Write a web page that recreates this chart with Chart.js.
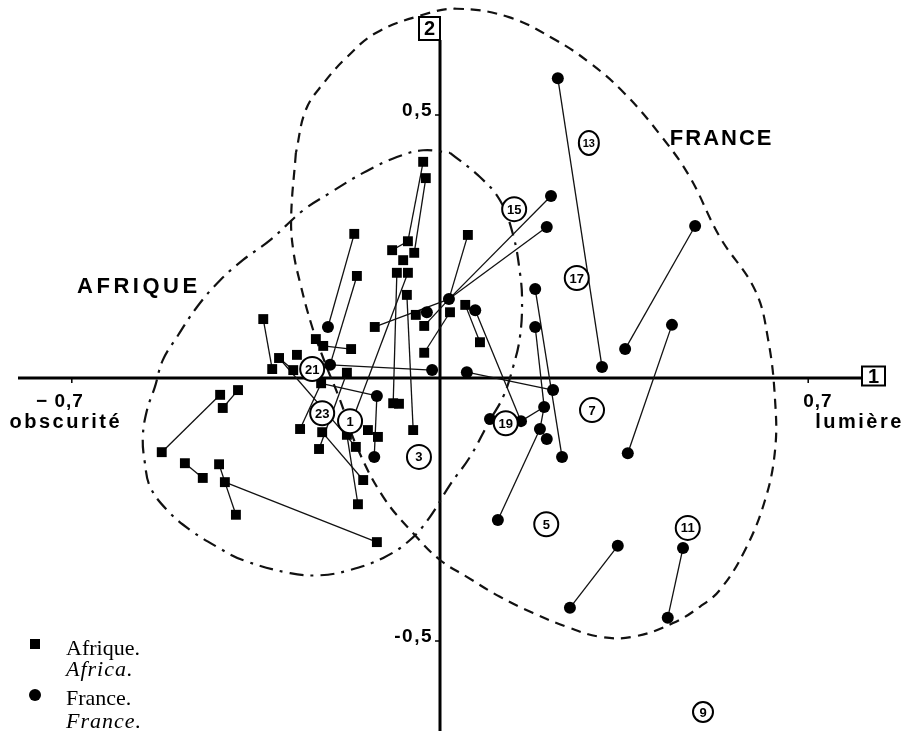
<!DOCTYPE html>
<html lang="fr">
<head>
<meta charset="utf-8">
<title>Afrique / France</title>
<script src="https://cdn.jsdelivr.net/npm/chart.js@4.4.1/dist/chart.umd.min.js"></script>
<style>
html,body{margin:0;padding:0;background:#fff;}
#wrap{position:relative;width:909px;height:731px;}
canvas{display:block;}
</style>
</head>
<body>
<div id="wrap"><canvas id="chart" width="909" height="731"></canvas></div>
<script>
// ---------- DATA (axis 1 = horizontal, axis 2 = vertical) ----------
const afriqueX = [-0.032,-0.027,-0.061,-0.049,-0.091,-0.070,-0.082,-0.061,-0.063,-0.163,
  -0.158,-0.124,-0.046,-0.030,-0.030,0.019,0.053,0.048,0.076,-0.336,
  -0.319,-0.306,-0.272,-0.279,-0.236,-0.222,-0.169,-0.177,-0.226,-0.089,
  -0.078,-0.051,-0.266,-0.224,-0.177,-0.137,-0.118,-0.230,-0.160,-0.146,
  -0.156,-0.120,-0.418,-0.384,-0.413,-0.529,-0.485,-0.451,-0.420,-0.409,-0.388];
const afriqueY = [0.411,0.380,0.260,0.238,0.243,0.224,0.200,0.200,0.158,0.274,
  0.194,0.097,0.120,0.099,0.048,0.125,0.272,0.139,0.068,0.112,
  0.017,0.038,0.044,0.015,0.074,0.061,0.055,0.010,-0.010,-0.048,
  -0.049,-0.099,-0.097,-0.103,-0.108,-0.099,-0.112,-0.135,-0.131,-0.194,
  -0.240,-0.312,-0.032,-0.023,-0.057,-0.141,-0.162,-0.190,-0.164,-0.198,-0.260];

const franceX = [0.224,0.308,0.211,0.203,0.485,0.352,0.441,0.357,0.338,0.247,
  0.462,0.433,0.190,0.110,0.181,0.181,0.215,0.198,0.203,0.232,
  0.095,0.154,0.051,0.017,0.067,-0.025,-0.015,-0.209,-0.213,-0.120,-0.125];
const franceY = [0.570,0.021,0.346,0.287,0.289,0.055,0.101,-0.143,-0.319,-0.437,
  -0.323,-0.456,-0.097,-0.270,0.169,0.097,-0.023,-0.055,-0.116,-0.150,
  -0.078,-0.082,0.011,0.150,0.129,0.125,0.015,0.025,0.097,-0.034,-0.150];

// links between points (A = Afrique n°, F = France n°, 1-based)
const links = [
  ['F1','F2'],['F5','F6'],['F7','F8'],['F9','F10'],['F11','F12'],['F13','F14'],
  ['F15','F20'],['F16','F18'],['F18','F13'],['F18','F22'],['F23','F17'],['F25','F22'],
  ['F21','F22'],['F24','F3'],['F24','F4'],['F24','A17'],['F24','A12'],['F24','A14'],
  ['A16','A15'],['A18','A19'],['A1','A3'],['A2','A4'],['A5','A3'],['A7','A30'],
  ['A8','A35'],['A35','A41'],['A9','A32'],['A10','F29'],['A11','F28'],['F28','F27'],
  ['A26','A27'],['A20','A21'],['A22','A24'],['A22','A39'],['A29','A33'],['A28','A38'],
  ['F30','A29'],['F30','F31'],['A34','A40'],['A43','A46'],['A44','A45'],['A47','A48'],
  ['A49','A50'],['A50','A51'],['A50','A42'],['A36','A37']
];

// numbered pair labels
const pairLabels = ['1','3','5','7','9','11','13','15','17','19','21','23'];
const pairLabelX = [-0.171,-0.040,0.202,0.289,0.500,0.471,0.283,0.141,0.260,0.125,-0.243,-0.224];
const pairLabelY = [-0.082,-0.150,-0.278,-0.061,-0.635,-0.285,0.447,0.321,0.190,-0.086,0.017,-0.067];

// envelope contours
const franceContourX = [-0.274,-0.283,-0.279,-0.266,-0.243,-0.219,-0.190,-0.158,-0.108,-0.051,0.000,0.051,0.114,0.177,0.241,0.304,0.367,0.443,0.494,0.532,0.580,0.618,0.637,0.637,0.624,0.599,0.532,0.475,0.422,0.350,0.285,0.219,0.131,0.032,-0.034,-0.122,-0.177,-0.221,-0.255,-0.274];
const franceContourY = [0.428,0.306,0.243,0.181,0.097,0.030,-0.042,-0.131,-0.226,-0.295,-0.346,-0.378,-0.416,-0.447,-0.473,-0.492,-0.492,-0.466,-0.435,-0.403,-0.327,-0.232,-0.137,-0.042,0.072,0.167,0.268,0.382,0.458,0.542,0.599,0.643,0.686,0.702,0.690,0.656,0.610,0.561,0.510,0.428];
const afriqueContourX = [0.019,0.076,0.114,0.139,0.152,0.156,0.152,0.139,0.120,0.095,0.057,0.019,-0.019,-0.057,-0.108,-0.171,-0.228,-0.285,-0.375,-0.424,-0.475,-0.519,-0.551,-0.561,-0.565,-0.557,-0.542,-0.527,-0.500,-0.462,-0.418,-0.375,-0.323,-0.260,-0.209,-0.146,-0.082,-0.032,0.019];
const afriqueContourY = [0.428,0.382,0.338,0.272,0.200,0.148,0.078,0.021,-0.036,-0.080,-0.150,-0.203,-0.264,-0.308,-0.342,-0.365,-0.375,-0.371,-0.346,-0.321,-0.289,-0.251,-0.207,-0.162,-0.112,-0.061,-0.017,0.034,0.078,0.135,0.186,0.224,0.262,0.319,0.352,0.390,0.420,0.433,0.428];

// axis ticks
const xTickValues = [-0.7, 0.7];
const xTickLabels = ['\u2212 0,7', '0,7'];
const xPoleLabels = ['obscurit\u00e9', 'lumi\u00e8re'];
const yTickValues = [0.5, -0.5];
const yTickLabels = ['0,5', '-0,5'];
const axisNames = ['1', '2'];
const groupNames = ['AFRIQUE', 'FRANCE'];
const groupNameX = [-0.690, 0.437];
const groupNameY = [0.162, 0.443];
const legendItems = [['Afrique.', 'Africa.'], ['France.', 'France.']];

// ---------- BUILD ----------
const pts = {};
afriqueX.forEach((x, i) => pts['A' + (i + 1)] = {x: x, y: afriqueY[i]});
franceX.forEach((x, i) => pts['F' + (i + 1)] = {x: x, y: franceY[i]});
const zip = (xs, ys) => xs.map((x, i) => ({x: x, y: ys[i]}));

const datasets = [];
datasets.push({
  label: 'contour France', data: zip(franceContourX, franceContourY),
  showLine: true, borderColor: '#111', borderWidth: 2.2, borderDash: [10, 7],
  pointRadius: 0, tension: 0.4, fill: false, order: 10
});
datasets.push({
  label: 'contour Afrique', data: zip(afriqueContourX, afriqueContourY),
  showLine: true, borderColor: '#111', borderWidth: 2.2, borderDash: [14, 7, 3, 7],
  pointRadius: 0, tension: 0.4, fill: false, order: 10
});
links.forEach(([a, b]) => datasets.push({
  label: 'lien', data: [pts[a], pts[b]], showLine: true,
  borderColor: '#111', borderWidth: 1.3, pointRadius: 0, tension: 0, order: 5
}));
datasets.push({
  label: 'Afrique', data: zip(afriqueX, afriqueY), pointStyle: 'rect',
  pointRadius: 7, backgroundColor: '#000', borderColor: '#000', borderWidth: 0, order: 1
});
datasets.push({
  label: 'France', data: zip(franceX, franceY), pointStyle: 'circle',
  pointRadius: 6, backgroundColor: '#000', borderColor: '#000', borderWidth: 0, order: 1
});

const SANS = '"Liberation Sans", Arial, sans-serif';
const SERIF = '"Liberation Serif", "Times New Roman", serif';

function spaced(ctx, px) { try { ctx.letterSpacing = px + 'px'; } catch (e) {} }

const overlay = {
  id: 'overlay',
  beforeDatasetsDraw(chart) {
    const {ctx, scales: {x: xs, y: ys}} = chart;
    const ox = xs.getPixelForValue(0), oy = ys.getPixelForValue(0);
    ctx.save();
    ctx.strokeStyle = '#000';
    ctx.lineWidth = 3;
    ctx.beginPath();
    ctx.moveTo(18, oy); ctx.lineTo(862, oy);
    ctx.moveTo(ox, 40); ctx.lineTo(ox, chart.height);
    ctx.stroke();
    ctx.lineWidth = 1.5;
    ctx.beginPath();
    xTickValues.forEach(v => { const p = xs.getPixelForValue(v); ctx.moveTo(p, oy); ctx.lineTo(p, oy + 5); });
    yTickValues.forEach(v => { const p = ys.getPixelForValue(v); ctx.moveTo(ox - 5, p); ctx.lineTo(ox, p); });
    ctx.stroke();
    ctx.restore();
  },
  afterDatasetsDraw(chart) {
    const {ctx, scales: {x: xs, y: ys}} = chart;
    const ox = xs.getPixelForValue(0), oy = ys.getPixelForValue(0);
    ctx.save();
    ctx.fillStyle = '#000';
    ctx.strokeStyle = '#000';

    // x tick labels & pole names
    ctx.font = 'bold 19px ' + SANS;
    ctx.textBaseline = 'alphabetic';
    spaced(ctx, 1);
    xTickValues.forEach((v, i) => {
      const p = xs.getPixelForValue(v);
      if (v < 0) { ctx.textAlign = 'right'; ctx.fillText(xTickLabels[i], p + 12, oy + 29); }
      else { ctx.textAlign = 'left'; ctx.fillText(xTickLabels[i], p - 5, oy + 29); }
    });
    ctx.font = 'bold 20px ' + SANS;
    spaced(ctx, 2.5);
    xTickValues.forEach((v, i) => {
      const p = xs.getPixelForValue(v);
      if (v < 0) { ctx.textAlign = 'center'; ctx.fillText(xPoleLabels[i], p - 6, oy + 50); }
      else { ctx.textAlign = 'left'; ctx.fillText(xPoleLabels[i], p + 7, oy + 50); }
    });
    // y tick labels
    ctx.font = 'bold 19px ' + SANS;
    spaced(ctx, 1.5);
    ctx.textAlign = 'right';
    yTickValues.forEach((v, i) => {
      const p = ys.getPixelForValue(v);
      ctx.fillText(yTickLabels[i], ox - 7, p + 1);
    });

    // group names
    ctx.font = 'bold 22px ' + SANS;
    ctx.textAlign = 'left';
    groupNames.forEach((g, i) => {
      spaced(ctx, i === 0 ? 3.5 : 2);
      ctx.fillText(g, xs.getPixelForValue(groupNameX[i]), ys.getPixelForValue(groupNameY[i]));
    });
    spaced(ctx, 0);

    // axis boxes
    const boxes = [[862, oy - 2, 23, 19], [ox - 21, 17, 21, 23]];
    ctx.lineWidth = 2;
    ctx.font = 'bold 20px ' + SANS;
    ctx.textAlign = 'center';
    ctx.textBaseline = 'middle';
    boxes.forEach(([bx, by, bw, bh], i) => {
      const top = i === 0 ? by - bh / 2 : by;
      ctx.fillStyle = '#fff';
      ctx.fillRect(bx, top, bw, bh);
      ctx.strokeRect(bx, top, bw, bh);
      ctx.fillStyle = '#000';
      ctx.fillText(axisNames[i], bx + bw / 2, top + bh / 2 + 1);
    });

    // numbered pair labels
    pairLabels.forEach((t, i) => {
      const cx = xs.getPixelForValue(pairLabelX[i]), cy = ys.getPixelForValue(pairLabelY[i]);
      const small = t === '13';
      const rx = small ? 10 : (t === '9' ? 10 : 12), ry = small ? 12 : (t === '9' ? 10 : 12);
      ctx.beginPath();
      ctx.ellipse(cx, cy, rx, ry, 0, 0, Math.PI * 2);
      ctx.fillStyle = '#fff';
      ctx.fill();
      ctx.lineWidth = 2;
      ctx.stroke();
      ctx.fillStyle = '#000';
      ctx.font = 'bold ' + (small ? 11 : 13) + 'px ' + SANS;
      ctx.fillText(t, cx, cy + 1);
    });

    // legend
    ctx.textAlign = 'left';
    ctx.textBaseline = 'alphabetic';
    ctx.fillRect(30, 639, 10, 10);
    ctx.beginPath(); ctx.arc(35, 695, 6, 0, Math.PI * 2); ctx.fill();
    const rows = [[655, 676], [705, 728]];
    legendItems.forEach((pair, i) => {
      ctx.font = '22px ' + SERIF;
      ctx.fillText(pair[0], 66, rows[i][0]);
      ctx.font = 'italic 22px ' + SERIF;
      spaced(ctx, 1);
      ctx.fillText(pair[1], 66, rows[i][1]);
      spaced(ctx, 0);
    });
    ctx.restore();
  }
};

new Chart(document.getElementById('chart'), {
  type: 'scatter',
  data: {datasets: datasets},
  options: {
    responsive: false,
    devicePixelRatio: 1,
    animation: false,
    layout: {padding: 0, autoPadding: false},
    plugins: {legend: {display: false}, tooltip: {enabled: false}},
    scales: {
      x: {type: 'linear', display: false, min: -440 / 526, max: 469 / 526},
      y: {type: 'linear', display: false, min: -353 / 526, max: 378 / 526}
    }
  },
  plugins: [overlay]
});
</script>
</body>
</html>
